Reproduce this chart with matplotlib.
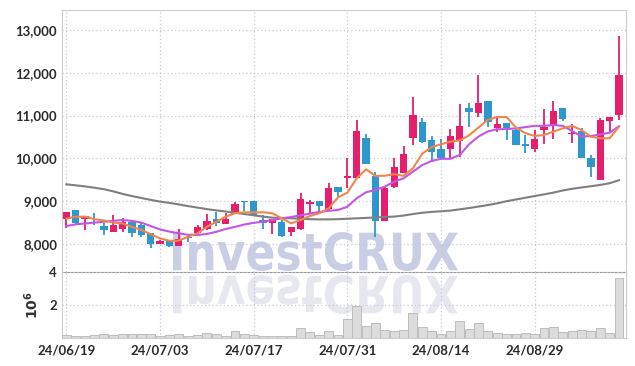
import matplotlib
matplotlib.use("Agg")
import matplotlib.pyplot as plt
import numpy as np
from matplotlib.textpath import TextPath
from matplotlib.patches import PathPatch
from matplotlib.font_manager import FontProperties
import matplotlib.transforms as mtransforms

plt.rcParams['font.family'] = ['Lato', 'DejaVu Sans']
plt.rcParams['font.weight'] = 'bold'

dates = ['24/06/19', '24/06/20', '24/06/21', '24/06/24', '24/06/25', '24/06/26', '24/06/27', '24/06/28',
         '24/07/01', '24/07/02', '24/07/03', '24/07/04', '24/07/05', '24/07/08', '24/07/09', '24/07/10',
         '24/07/11', '24/07/12', '24/07/15', '24/07/16', '24/07/17', '24/07/18', '24/07/19', '24/07/22',
         '24/07/23', '24/07/24', '24/07/25', '24/07/26', '24/07/29', '24/07/30', '24/07/31', '24/08/01',
         '24/08/02', '24/08/05', '24/08/06', '24/08/07', '24/08/08', '24/08/09', '24/08/12', '24/08/13',
         '24/08/14', '24/08/16', '24/08/19', '24/08/20', '24/08/21', '24/08/22', '24/08/23', '24/08/26',
         '24/08/27', '24/08/28', '24/08/29', '24/08/30', '24/09/02', '24/09/03', '24/09/04', '24/09/05',
         '24/09/06', '24/09/09', '24/09/10', '24/09/11']

opens = [8580, 8800, 8590, 8510, 8430, 8280, 8350, 8520, 8440, 8260,
         8000, 8090, 7950, 8160, 8250, 8350, 8580, 8470, 8710, 9010,
         9010, 8560, 8500, 8520, 8290, 8350, 8940, 9010, 8820, 9320,
         9550, 9550, 10480, 9600, 8545, 9340, 9650, 10470, 10860, 10430,
         10220, 10210, 10410, 11170, 11050, 11340, 10700, 10820, 10660, 10340,
         10220, 10660, 10780, 11170, 10560, 10640, 10020, 9500, 10880, 11010]
highs = [8750, 8800, 8660, 8730, 8490, 8680, 8610, 8560, 8520, 8260,
         8100, 8100, 8340, 8230, 8440, 8690, 8750, 8720, 8990, 9010,
         9010, 8680, 8580, 8560, 8390, 9200, 9030, 9010, 9420, 9320,
         10000, 10900, 10560, 9690, 9330, 10000, 10300, 11440, 10940, 10520,
         10450, 10680, 11260, 11300, 11950, 11340, 10990, 10820, 10700, 10550,
         10660, 11150, 11340, 11170, 10800, 10720, 10080, 10940, 10960, 12850]
lows = [8380, 8470, 8330, 8440, 8200, 8280, 8280, 8170, 8170, 7900,
        7990, 7940, 7950, 8050, 8210, 8330, 8420, 8470, 8700, 8780,
        8650, 8340, 8230, 8160, 8190, 8330, 8690, 8760, 8800, 9100,
        9300, 9530, 9880, 8170, 8545, 9300, 9650, 10310, 10370, 9920,
        9990, 9990, 10040, 10740, 10970, 10740, 10620, 10430, 10310, 10130,
        10160, 10340, 10450, 10880, 10350, 10020, 9570, 9500, 10620, 10900]
closes = [8750, 8500, 8650, 8500, 8330, 8440, 8520, 8260, 8210, 8000,
          8080, 7960, 8110, 8150, 8400, 8540, 8480, 8580, 8930, 8970,
          8660, 8480, 8580, 8190, 8390, 9050, 8980, 8890, 9300, 9220,
          9600, 10650, 9880, 8545, 9300, 9800, 10100, 11010, 10380, 10140,
          10020, 10520, 10760, 11090, 11300, 10840, 10800, 10720, 10310, 10290,
          10450, 10740, 11100, 10920, 10590, 10020, 9810, 10900, 10960, 11950]
volumes = [0.15, 0.08, 0.08, 0.15, 0.2, 0.15, 0.22, 0.22, 0.22, 0.22,
           0.1, 0.15, 0.2, 0.08, 0.15, 0.28, 0.22, 0.1, 0.4, 0.22,
           0.15, 0.1, 0.1, 0.08, 0.08, 0.58, 0.34, 0.15, 0.4, 0.13,
           1.14, 1.94, 0.71, 0.87, 0.46, 0.4, 0.46, 1.49, 0.65, 0.4,
           0.2, 0.4, 1.0, 0.54, 0.87, 0.4, 0.26, 0.22, 0.22, 0.26,
           0.2, 0.58, 0.65, 0.34, 0.4, 0.46, 0.4, 0.58, 0.28, 3.64]  # x 10^6

ma5 = [8590, 8638, 8640, 8580, 8550, 8500, 8480, 8400, 8330, 8230,
       8130, 8075, 8080, 8170, 8250, 8400, 8520, 8638, 8717, 8740,
       8740, 8740, 8717, 8600, 8483, 8560, 8654, 8717, 8834, 9090,
       9200, 9535, 9745, 9590, 9595, 9630, 9590, 9770, 10110, 10265,
       10330, 10390, 10420, 10540, 10720, 10900, 10965, 10965, 10720, 10590,
       10523, 10546, 10623, 10702, 10760, 10663, 10507, 10470, 10470, 10740]
ma20 = [8420, 8460, 8480, 8500, 8520, 8540, 8560, 8540, 8500, 8420,
        8340, 8290, 8250, 8215, 8210, 8235, 8285, 8350, 8400, 8455,
        8495, 8520, 8560, 8600, 8630, 8670, 8710, 8750, 8775, 8795,
        8870, 9070, 9210, 9260, 9340, 9455, 9535, 9690, 9845, 9940,
        9990, 9990, 10080, 10330, 10510, 10630, 10680, 10685, 10700, 10730,
        10760, 10760, 10780, 10760, 10640, 10510, 10520, 10560, 10600, 10750]
ma60 = [9395, 9370, 9345, 9315, 9280, 9230, 9170, 9120, 9075, 9030,
        8990, 8960, 8925, 8885, 8850, 8815, 8785, 8760, 8730, 8700,
        8670, 8640, 8615, 8605, 8600, 8590, 8580, 8575, 8575, 8580,
        8590, 8600, 8610, 8620, 8630, 8640, 8665, 8700, 8730, 8750,
        8765, 8780, 8810, 8840, 8875, 8910, 8950, 9000, 9040, 9080,
        9120, 9160, 9200, 9250, 9290, 9320, 9350, 9380, 9420, 9490]

up_col = '#e61e6e'
down_col = '#2e98cc'
grid_col = '#c4c8dc'

W, H = 635, 366
fig = plt.figure(figsize=(W / 100, H / 100), dpi=100)
left, right = 62 / W, 626 / W
ax = fig.add_axes([left, (H - 272) / H, right - left, 262 / H])
axv = fig.add_axes([left, (H - 337.5) / H, right - left, 65.5 / H])
for a in (ax, axv):
    a.set_facecolor('none')
    for s in a.spines.values():
        s.set_color('#cccccc')
        s.set_linewidth(0.8)
    a.tick_params(length=0, colors='#2a2a2a', labelsize=9.5)

x = np.arange(len(dates))
o = np.array(opens)
c = np.array(closes)
up = c >= o
cols = [up_col if u else down_col for u in up]
body_lo = np.minimum(o, c)
body_h = np.maximum(np.abs(c - o), 25)

# watermark with reflection
fp = FontProperties(family='DejaVu Sans', weight='bold')
tp = TextPath((0, 0), 'InvestCRUX', size=1, prop=fp)
ext = tp.get_extents()
sx = 285 / ext.width
sy = 39 / ext.height
base = H - 272
t_main = mtransforms.Affine2D().translate(-ext.x0, -ext.y0).scale(sx, sy).translate(173, base + 1)
t_refl = mtransforms.Affine2D().translate(-ext.x0, -ext.y0).scale(sx, -sy).translate(173, base - 3)
fig.patches.append(PathPatch(tp, transform=t_main, facecolor='#c9cee5', edgecolor='none', zorder=-5))
fig.patches.append(PathPatch(tp, transform=t_refl, facecolor='#e7e7ef', edgecolor='none', zorder=-5))

# price panel
ax.vlines(x, lows, highs, colors=cols, linewidth=1.3, zorder=3)
ax.bar(x, body_h, bottom=body_lo, width=0.78, color=cols, zorder=4)
ax.plot(x, ma60, color='#7f7f7f', linewidth=1.5, zorder=5)
ax.plot(x, ma20, color='#c455e6', linewidth=1.5, zorder=5)
ax.plot(x, ma5, color='#f0864c', linewidth=1.5, zorder=5)

ax.set_xlim(-0.47, 59.75)
ax.set_ylim(7346, 13466)
ax.set_yticks([8000, 9000, 10000, 11000, 12000, 13000])
ax.set_yticklabels(['{:,}'.format(v) for v in [8000, 9000, 10000, 11000, 12000, 13000]])
ax.set_xticks(x[::10])
ax.set_xticklabels([])
ax.grid(True, color=grid_col, linestyle=(0, (1, 2)), linewidth=0.9)
ax.spines['bottom'].set_color('#999999')

# volume panel
axv.bar(x, volumes, width=0.95, color='#dcdcdc', edgecolor='#bdbdbd', linewidth=0.7, zorder=3)
axv.set_xlim(-0.47, 59.75)
axv.set_ylim(0, 4)
axv.set_yticks([2, 4])
axv.set_yticklabels(['2', '4'])
axv.set_xticks(x[::10])
axv.set_xticklabels([dates[i] for i in x[::10]])
axv.tick_params(axis='x', pad=5)
axv.grid(True, color=grid_col, linestyle=(0, (1, 2)), linewidth=0.9)
axv.spines['top'].set_visible(False)
axv.set_ylabel(r'$10^6$', color='#333333', fontsize=10, labelpad=6)

fig.savefig('out.png', dpi=100)
